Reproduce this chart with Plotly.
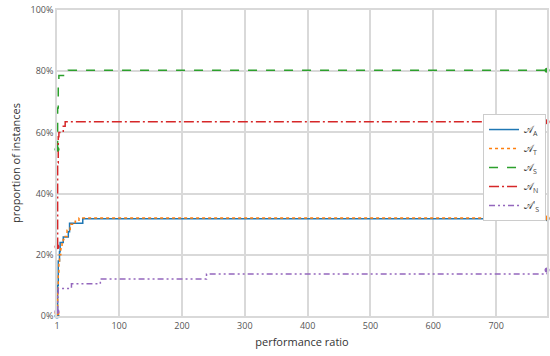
import plotly.graph_objects as go

# Data
blue_x = [1, 2, 3, 5, 6, 11, 19, 21, 42, 781]
blue_y = [0.0, 0.10, 0.18, 0.21, 0.24, 0.258, 0.275, 0.303, 0.318, 0.318]

orange_x = [1, 2, 3, 4, 5, 7, 9, 11, 14, 17, 22, 30, 36, 781]
orange_y = [0.01, 0.08, 0.14, 0.18, 0.20, 0.22, 0.24, 0.25, 0.26, 0.28, 0.30, 0.31, 0.32, 0.32]

green_x = [1, 2, 3, 4, 19, 781]
green_y = [0.545, 0.68, 0.76, 0.786, 0.803, 0.803]

red_x = [1, 2, 3, 4, 11, 14, 781]
red_y = [0.226, 0.50, 0.586, 0.60, 0.62, 0.635, 0.635]

purple_x = [1, 2, 3, 24, 70, 239, 781]
purple_y = [0.015, 0.063, 0.09, 0.105, 0.121, 0.137, 0.15]

names = ["𝒜<sub>A</sub>", "𝒜<sub>T</sub>", "𝒜<sub>S</sub>", "𝒜<sub>N</sub>", "𝒜'<sub>S</sub>"]
colors = ["#1f77b4", "#ff7f0e", "#2ca02c", "#d62728", "#9467bd"]
dashes = ["solid", "dot", "dash", "10px,3px,2px,3px", "6px,3px,2px,3px,2px,3px"]

x_ticks = [1, 100, 200, 300, 400, 500, 600, 700]
y_ticks = [0, 0.2, 0.4, 0.6, 0.8, 1.0]

series = [(blue_x, blue_y), (orange_x, orange_y), (green_x, green_y),
          (red_x, red_y), (purple_x, purple_y)]

fig = go.Figure()
for (xs, ys), name, c, d in zip(series, names, colors, dashes):
    fig.add_trace(go.Scatter(x=xs, y=ys, mode="lines", name=name,
                             line=dict(color=c, width=1.5, dash=d, shape="hv")))
for (xs, ys), c in zip(series, colors):
    fig.add_trace(go.Scatter(x=[xs[0], xs[-1]], y=[ys[0], ys[-1]], mode="markers",
                             showlegend=False, cliponaxis=False,
                             marker=dict(color=c, size=5)))

fig.update_layout(
    width=550, height=356,
    margin=dict(l=57, r=1, t=10, b=40),
    paper_bgcolor="white", plot_bgcolor="white",
    font=dict(family="Open Sans", size=9, color="#555"),
    showlegend=True,
    legend=dict(x=0.998, xanchor="right", y=0.66, yanchor="top",
                bgcolor="white", bordercolor="#cccccc", borderwidth=1,
                font=dict(size=10, color="#444"), itemwidth=30,
                tracegroupgap=0),
)
fig.update_xaxes(range=[1, 781], tickvals=x_ticks, ticktext=[str(v) for v in x_ticks],
                 showgrid=True, gridcolor="#d9d9d9", gridwidth=1.5,
                 showline=True, linecolor="#d9d9d9", linewidth=1.5, mirror=True,
                 zeroline=False, ticks="", ticklen=0,
                 title=dict(text="performance ratio", font=dict(size=11, color="#333"), standoff=8),
                 tickfont=dict(size=9, color="#555"))
fig.update_yaxes(range=[0, 1], tickvals=y_ticks, tickformat=".0%",
                 showgrid=True, gridcolor="#d9d9d9", gridwidth=1.5,
                 showline=True, linecolor="#d9d9d9", linewidth=1.5, mirror=True,
                 zeroline=False, ticks="",
                 title=dict(text="proportion of instances", font=dict(size=11, color="#333"), standoff=8),
                 tickfont=dict(size=9, color="#555"))

fig.write_html("out.html")
